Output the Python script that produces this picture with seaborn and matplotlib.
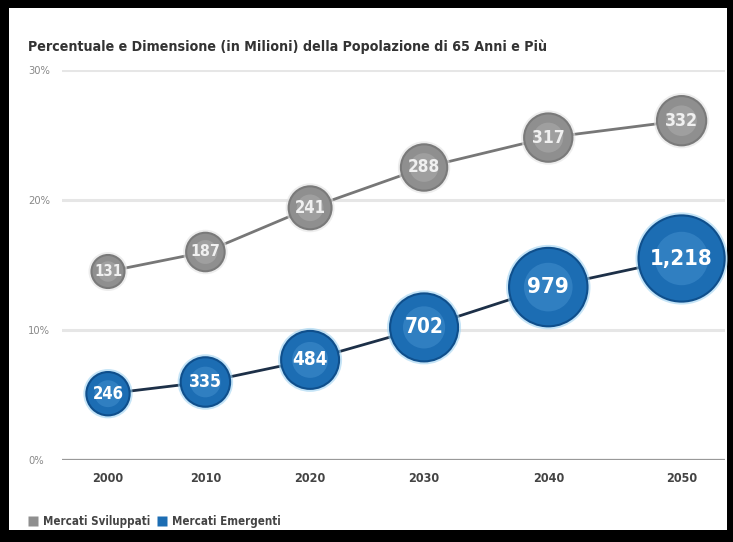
import numpy as np
import pandas as pd
import matplotlib
matplotlib.use("Agg")
import matplotlib.pyplot as plt
from matplotlib.patches import Rectangle
from matplotlib.lines import Line2D
import seaborn as sns

# Quota della popolazione di 65 anni e più (%), e dimensione in milioni
years = ["2000", "2010", "2020", "2030", "2040", "2050"]
pct_developed = [14.5, 16.0, 19.4, 22.5, 24.8, 26.1]
pct_emerging = [5.1, 6.0, 7.7, 10.2, 13.3, 15.5]
pop_developed = [131, 187, 241, 288, 317, 332]
pop_emerging = [246, 335, 484, 702, 979, 1218]
series_names = ["Mercati Sviluppati", "Mercati Emergenti"]
y_ticks = [0, 10, 20, 30]
y_ticklabels = ["0%", "10%", "20%", "30%"]
title = "Percentuale e Dimensione (in Milioni) della Popolazione di 65 Anni e Più"

sns.set_theme(style="white")
plt.rcParams["font.family"] = ["DejaVu Sans"]
plt.rcParams["font.stretch"] = "condensed"

colors = {series_names[0]: "#8f8f8f", series_names[1]: "#1c6db3"}
line_colors = {series_names[0]: "#777777", series_names[1]: "#1d3048"}
edge_colors = {series_names[0]: "#7a7a7a", series_names[1]: "#0f4f8c"}
glow_colors = {series_names[0]: "#e2e2e2", series_names[1]: "#9fd3f2"}
hl_colors = {series_names[0]: "#b3b3b3", series_names[1]: "#4a95d3"}

W, H, DPI = 733, 542, 100
PT = 72 / DPI  # points per pixel


def radius_px(v):
    # bubble radius grows with population (slightly sub-area scaling)
    return 2.03 * v ** 0.43


# columns spaced so neighbouring emerging-market bubbles keep an equal gap
GAP = 51
r_em = [radius_px(v) for v in pop_emerging]
xpos = [0.0]
for a, b in zip(r_em[:-1], r_em[1:]):
    xpos.append(xpos[-1] + a + b + GAP)

df = pd.DataFrame({
    "anno": years * 2,
    "x": xpos * 2,
    "pct": pct_developed + pct_emerging,
    "pop": pop_developed + pop_emerging,
    "serie": [series_names[0]] * len(years) + [series_names[1]] * len(years),
})
df["r"] = df["pop"].map(radius_px)


def size_map(extra=0.0, scale=1.0):
    return {v: (2 * (radius_px(v) * scale + extra) * PT) ** 2 for v in df["pop"]}


fig = plt.figure(figsize=(W / DPI, H / DPI), dpi=DPI)
fig.patch.set_facecolor("black")
fig.patches.append(Rectangle((9 / W, 1 - 530 / H), (727 - 9) / W, (530 - 8) / H,
                             transform=fig.transFigure, facecolor="white",
                             edgecolor="none", zorder=-10))

ax_l, ax_r = 62, 725
ax = fig.add_axes([ax_l / W, 1 - 460 / H, (ax_r - ax_l) / W, (460 - 70) / H])
ax.set_facecolor("none")

sns.lineplot(data=df, x="x", y="pct", hue="serie", palette=line_colors,
             linewidth=2, legend=False, ax=ax, zorder=2)

# halo
sns.scatterplot(data=df, x="x", y="pct", hue="serie", palette=glow_colors,
                size="pop", sizes=size_map(extra=3), linewidth=0, alpha=0.6,
                legend=False, ax=ax, zorder=2.5, clip_on=False)
# bubble body
sns.scatterplot(data=df, x="x", y="pct", hue="serie", palette=colors,
                size="pop", sizes=size_map(),
                edgecolor=[edge_colors[s] for s in df["serie"]], linewidth=1.5,
                legend=False, ax=ax, zorder=3, clip_on=False)
# soft highlight
sns.scatterplot(data=df, x="x", y="pct", hue="serie", palette=hl_colors,
                size="pop", sizes=size_map(scale=0.62),
                linewidth=0, alpha=0.45, legend=False, ax=ax, zorder=4, clip_on=False)

for _, r in df.iterrows():
    blue = r["serie"] == series_names[1]
    label = f"{r['pop']:,}"
    fs = (7 + 0.23 * r["r"]) * min(1.0, 4.7 / len(label))
    ax.text(r["x"], r["pct"], label, ha="center", va="center",
            color="white" if blue else "#f0f0f0", fontsize=fs,
            fontweight="bold", zorder=5)

ax.set_xlim(-(108 - ax_l), -(108 - ax_l) + (ax_r - ax_l))
ax.set_ylim(0, 30)
ax.set_xticks(xpos)
ax.set_xticklabels(years, fontsize=9, fontweight="bold", color="#444444")
ax.set_yticks(y_ticks)
ax.set_yticklabels(y_ticklabels, fontsize=8, color="#888888", ha="left")
ax.tick_params(axis="y", length=0, pad=24.5)
ax.tick_params(axis="x", length=0, pad=9)
ax.set_xlabel("")
ax.set_ylabel("")
for sp in ax.spines.values():
    sp.set_visible(False)
ax.grid(axis="y", color="#e6e6e6", linewidth=2.2)
ax.grid(axis="x", visible=False)
ax.axhline(0, color="#999999", linewidth=1.6, zorder=1)

fig.text(28 / W, 1 - 47 / H, title, fontsize=10.2, fontweight="bold",
         color="#333333", va="center", ha="left")

handles = [Line2D([], [], marker="s", linestyle="none", markersize=6.5,
                  markerfacecolor=colors[n], markeredgecolor="none") for n in series_names]
fig.legend(handles, series_names, loc="center left",
           bbox_to_anchor=(27 / W, 1 - 522 / H), ncol=2, frameon=False,
           borderpad=0, borderaxespad=0,
           handletextpad=0.35, columnspacing=0.6, handlelength=1.0,
           prop={"size": 8.3, "weight": "bold"},
           labelcolor="#444444")

fig.savefig("out.png", dpi=DPI, facecolor=fig.get_facecolor())
